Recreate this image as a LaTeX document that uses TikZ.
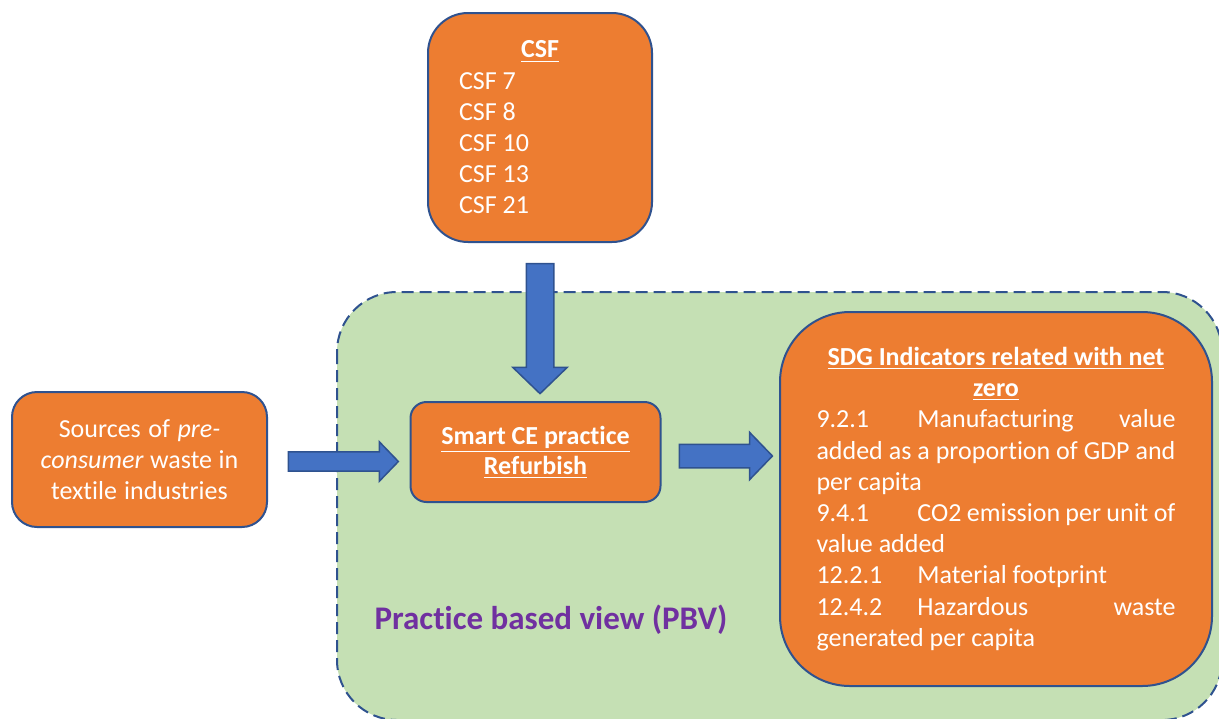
\documentclass[tikz,border=0pt]{standalone}
\usepackage{fontspec}
\setmainfont{Carlito}[Ligatures=NoCommon]
\usetikzlibrary{shapes.arrows,calc}
\definecolor{boxorange}{HTML}{ED7D31}
\definecolor{lineblue}{HTML}{2F528F}
\definecolor{arrowblue}{HTML}{4472C4}
\definecolor{pbvgreen}{HTML}{C5E0B4}
\definecolor{pbvpurple}{HTML}{7030A0}
\tikzstyle{orangebox} = [rectangle, draw=lineblue, line width=1pt, fill=boxorange, text=white, font=\fontsize{13}{15.6}\selectfont, execute at begin node={\spaceskip=0pt\xspaceskip=0pt}]
\tikzstyle{blockarrow} = [single arrow, draw=lineblue, line width=0.75pt, fill=arrowblue, inner xsep=0pt, single arrow tip angle=92]
\tikzstyle{pbvarea} = [draw=lineblue, line width=1pt, dash pattern=on 6pt off 3pt, fill=pbvgreen, rounded corners=30pt]

\begin{document}
\begin{tikzpicture}[x=0.5pt, y=-0.5pt]
\useasboundingbox (0,0) rectangle (1219,718);

\draw [pbvarea] (337,292) rectangle (1222,720);
\node (pbvlabel) [text=pbvpurple, font=\fontsize{16.5}{20}\selectfont\bfseries] at (551,620) {Practice based view (PBV)};

\node (csf) [orangebox, rounded corners=20pt, minimum width=112pt, minimum height=114.5pt, text width=81pt, align=left] at (540,127.5) {\makebox[\linewidth]{\bfseries\underline{CSF}}\\CSF 7\\CSF 8\\CSF 10\\CSF 13\\CSF 21};
\node (src) [orangebox, rounded corners=12.5pt, minimum width=127.5pt, minimum height=67.5pt, text width=110pt, align=center] at (139.5,459.5) {Sources of \textit{pre-}\\\textit{consumer} waste in\\textile industries};
\node (smart) [orangebox, rounded corners=8pt, minimum width=125pt, minimum height=50pt, align=center, font=\fontsize{13}{15}\selectfont\bfseries] at (535.5,452) {\underline{Smart CE practice}\\\underline{Refurbish}};
\node (sdg) [orangebox, rounded corners=35pt, minimum width=216pt, minimum height=187pt, text width=179.5pt, align=left] at (996,499) {%
\makebox[\linewidth]{\bfseries\underline{SDG Indicators related with net}}\\
\makebox[\linewidth]{\bfseries\underline{zero}}\\
\makebox[50.5pt][l]{9.2.1}Manufacturing\hfill value\\
\makebox[\linewidth][s]{added as a proportion of GDP and}\\
per capita\\
\makebox[50.5pt][l]{9.4.1}\makebox[\dimexpr\linewidth-50.5pt][s]{CO2 emission per unit of}\\
value added\\
\makebox[50.5pt][l]{12.2.1}Material footprint\\
\makebox[50.5pt][l]{12.4.2}Hazardous\hfill waste\\
generated per capita};

% block arrows
\node (csfarrow) [blockarrow, rotate=-90, minimum height=65pt, minimum width=26.5pt, inner ysep=6.5pt, single arrow head extend=6.75pt] at ($(csf.south)!0.5!(csf.south |- smart.north)$) {};
\node (srcarrow) [blockarrow, minimum height=55pt, minimum width=19pt, inner ysep=4.4pt, single arrow head extend=5.1pt, yshift=-1pt] at ($(src.east)!0.5!(src.east -| smart.west)$) {};
\node (sdgarrow) [blockarrow, minimum height=46.5pt, minimum width=23pt, inner ysep=5.5pt, single arrow head extend=6pt, yshift=-2pt] at ($(smart.east)!0.5!(smart.east -| sdg.west)$) {};

\end{tikzpicture}
\end{document}
